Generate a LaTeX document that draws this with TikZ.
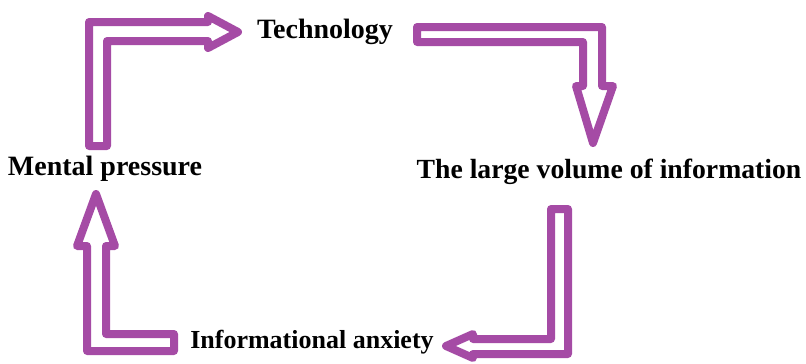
\documentclass[tikz,border=0pt]{standalone}
\usepackage{fontspec}
\setmainfont{Liberation Serif}
\definecolor{arrowpurple}{RGB}{165,75,165}
\begin{document}
\begin{tikzpicture}[x=1pt,y=-1pt,
  blockarrow/.style={draw=arrowpurple,line width=8pt,line join=round,fill=white},
  lbl/.style={anchor=base,inner sep=0pt,font=\bfseries\fontsize{28}{30}\selectfont,text=black}]
\useasboundingbox (0,0) rectangle (806,364);
% arrow 1: Mental pressure -> Technology
\draw[blockarrow] (89,146) -- (89,22) -- (208,22) -- (208,16) -- (238,32) -- (208,48) -- (208,41) -- (107,41) -- (107,146) -- cycle;
% arrow 2: Technology -> large volume
\draw[blockarrow] (417,27) -- (602,27) -- (602,86) -- (613,86) -- (593,143) -- (576,86) -- (583,86) -- (583,42) -- (417,42) -- cycle;
% arrow 3: large volume -> Informational anxiety
\draw[blockarrow] (551,209) -- (568,209) -- (568,354) -- (473,354) -- (473,358) -- (446,346) -- (473,334) -- (473,339) -- (551,339) -- cycle;
% arrow 4: Informational anxiety -> Mental pressure
\draw[blockarrow] (174,334) -- (106,334) -- (106,246) -- (115,246) -- (96,194) -- (77,246) -- (87,246) -- (87,351) -- (174,351) -- cycle;
\node[lbl] (tech) at (325,38) {Technology};
\node[lbl,font=\bfseries\fontsize{27.7}{30}\selectfont] (vol) at (609,178) {The large volume of information};
\node[lbl] (mental) at (105,175) {Mental pressure};
\node[lbl,font=\bfseries\fontsize{26}{30}\selectfont] (anx) at (312,348) {Informational anxiety};
\end{tikzpicture}
\end{document}
